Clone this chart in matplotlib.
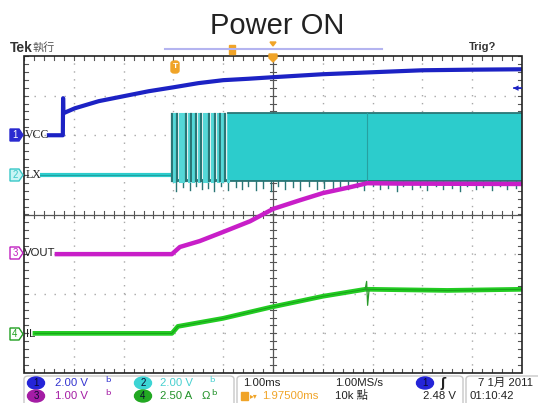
import matplotlib
matplotlib.use('Agg')
import numpy as np
import matplotlib.pyplot as plt
from matplotlib.patches import Polygon, Ellipse, FancyBboxPatch, Rectangle

# ---------------- data (time in ms across the 10-division screen) ----------------
vcc_t = [0.50, 0.78, 0.785, 0.79, 1.02, 1.5, 2.0, 2.5, 3.0, 3.5, 4.0, 4.5, 5.0, 6.0, 7.0, 8.0, 9.0, 10.0]
vcc_v = [0.0, 0.0, 1.87, 1.11, 1.36, 1.72, 1.97, 2.22, 2.42, 2.63, 2.78, 2.85, 2.93, 3.08, 3.18, 3.28, 3.31, 3.33]

lx_flat_t = [0.32, 2.97]
lx_flat_v = [0.0, 0.0]
lx_spike_t = [2.97, 3.02, 3.07, 3.13, 3.19, 3.25, 3.31, 3.35, 3.40, 3.46, 3.52, 3.56,
              3.61, 3.67, 3.71, 3.77, 3.83, 3.89, 3.93, 3.98, 4.04, 4.10]
lx_spike_dark = [1, 0, 1, 0, 0, 1, 0, 1, 0, 1, 0, 1, 0, 0, 1, 0, 1, 0, 1, 0, 1, 0]
lx_band_t = [4.10, 10.0]
lx_band_top = [3.13, 3.13]
lx_band_bot = [-0.25, -0.25]
lx_neg_t = [3.05, 3.20, 3.33, 3.45, 3.58, 3.70, 3.82, 3.95, 4.10, 4.25, 4.38, 4.50, 4.66,
            4.80, 4.95, 5.10, 5.25, 5.40, 5.55, 5.72, 5.88, 6.02, 6.20, 6.35, 6.50, 6.68,
            6.82, 7.00, 7.15, 7.30, 7.48, 7.62, 7.80, 7.95, 8.10, 8.28, 8.42, 8.60, 8.75,
            8.90, 9.08, 9.22, 9.40, 9.55, 9.70, 9.88]
lx_neg_v = [-0.80, -0.60, -0.75, -0.55, -0.70, -0.65, -0.80, -0.55, -0.75, -0.60, -0.70, -0.55,
            -0.75, -0.65, -0.80, -0.55, -0.70, -0.60, -0.75, -0.55, -0.70, -0.65, -0.80, -0.55,
            -0.70, -0.60, -0.75, -0.55, -0.70, -0.65, -0.80, -0.55, -0.70, -0.60, -0.75, -0.55,
            -0.70, -0.65, -0.80, -0.55, -0.70, -0.60, -0.75, -0.55, -0.70, -0.65]

vout_t = [0.66, 2.97, 3.13, 3.53, 4.0, 4.54, 5.0, 5.54, 6.0, 6.55, 6.89, 7.55, 10.0]
vout_v = [0.0, 0.0, 0.18, 0.33, 0.56, 0.83, 1.14, 1.36, 1.54, 1.69, 1.79, 1.78, 1.77]

il_t = [0.22, 2.97, 3.09, 4.0, 4.94, 6.0, 6.85, 6.93, 8.5, 10.0]
il_a = [0.0, 0.0, 0.44, 0.95, 1.64, 2.34, 2.78, 2.78, 2.71, 2.78]
il_spike_t = [6.85, 6.88, 6.90, 6.93]
il_spike_a = [2.78, 3.28, 1.77, 2.78]

# channel settings: (units/div, ground offset in divisions)
ch_scale = {'VCC': 2.0, 'LX': 2.0, 'VOUT': 1.0, 'IL': 2.5}
ch_offset = {'VCC': 2.0, 'LX': 1.0, 'VOUT': -1.0, 'IL': -3.0}

status_row1 = ['2.00 V', '2.00 V', '1.00ms', '1.00MS/s', '7 1月 2011']
status_row2 = ['1.00 V', '2.50 A', '1.97500ms', '10k 點', '2.48 V', '01:10:42']

def div(name, vals):
    return [v / ch_scale[name] + ch_offset[name] for v in vals]

# ---------------- figure ----------------
W, H = 538, 403
fig = plt.figure(figsize=(W / 100, H / 100), dpi=100)
fig.patch.set_facecolor('white')

def fx(x):
    return x / W

def fy(y):
    return 1 - y / H

L, R, T, B = 24, 522, 56, 373
ax = fig.add_axes([fx(L), fy(B), (R - L) / W, (B - T) / H])
ax.set_xlim(0, 10)
ax.set_ylim(-4, 4)
ax.axis('off')

# grid
gcol = '#a8a8a8'
for i in range(1, 10):
    if i == 5:
        continue
    ax.plot([i, i], [-4, 4], color=gcol, lw=1.0, ls=(0, (1, 4.7)), zorder=1)
for j in range(-3, 4):
    if j == 0:
        continue
    ax.plot([0, 10], [j, j], color=gcol, lw=1.0, ls=(0, (1, 6.2)), zorder=1)

ccol = '#555555'
ax.plot([0, 10], [0, 0], color=ccol, lw=0.9, zorder=1)
ax.plot([5, 5], [-4, 4], color=ccol, lw=0.9, zorder=1)
for k in np.arange(0, 10.001, 0.2):
    ax.plot([k, k], [-0.08, 0.08], color=ccol, lw=0.8, zorder=1)
    ax.plot([k, k], [4, 3.9], color=ccol, lw=0.8, zorder=1)
    ax.plot([k, k], [-4, -3.9], color=ccol, lw=0.8, zorder=1)
for k in np.arange(-4, 4.001, 0.2):
    ax.plot([4.94, 5.06], [k, k], color=ccol, lw=0.8, zorder=1)
    ax.plot([0, 0.08], [k, k], color=ccol, lw=0.8, zorder=1)
    ax.plot([10, 9.92], [k, k], color=ccol, lw=0.8, zorder=1)
ax.add_patch(Rectangle((0, -4), 10, 8, fill=False, ec='#222222', lw=1.2, zorder=6, clip_on=False))

# ---------------- traces ----------------
cyan = '#2ccccc'
teal = '#2a7676'
# LX
ax.plot(lx_flat_t, div('LX', lx_flat_v), color=cyan, lw=3.0, zorder=3, solid_capstyle='butt')
ax.plot(lx_flat_t, div('LX', lx_flat_v), color='#1f9a9a', lw=0.6, zorder=3)
ax.plot([2.97, 10.0], div('LX', [-0.25, -0.25]), color=teal, lw=2.0, zorder=3)
for t, v in zip(lx_neg_t, lx_neg_v):
    ax.plot([t, t], div('LX', [-0.25, v]), color=teal, lw=1.0, zorder=3)
for t, d in zip(lx_spike_t, lx_spike_dark):
    ax.plot([t, t], div('LX', [-0.3, 3.05]), color=teal if d else '#55d8d8',
            lw=1.6 if d else 2.2, zorder=3)
ax.fill_between(lx_band_t, div('LX', lx_band_bot), div('LX', lx_band_top),
                color=cyan, lw=0, zorder=3)
ax.plot(lx_band_t, div('LX', lx_band_top), color=teal, lw=1.3, zorder=3)
ax.plot([6.89, 6.89], div('LX', [-0.25, 3.13]), color='#27a0a0', lw=0.8, zorder=3)

# VCC
blue = '#1c22c4'
ax.plot(vcc_t, div('VCC', vcc_v), color=blue, lw=3.0, zorder=4, solid_joinstyle='round')
ax.plot(vcc_t[1:4], div('VCC', vcc_v[1:4]), color=blue, lw=1.0, zorder=4)

# VOUT
mag = '#c81ec8'
ax.plot(vout_t, div('VOUT', vout_v), color=mag, lw=3.2, zorder=5, solid_joinstyle='round')

# IL
green = '#22cc22'
ax.plot(il_t, div('IL', il_a), color=green, lw=3.4, zorder=5, solid_joinstyle='round')
ax.plot(il_t, div('IL', il_a), color='#199a19', lw=0.6, zorder=5)
ax.plot(il_spike_t, div('IL', il_spike_a), color='#2a9a2a', lw=0.9, zorder=5)

# ---------------- channel labels on left ----------------
def marker_box(y, num, fc, ec, tc):
    pts = [(fx(10), fy(y - 6)), (fx(19), fy(y - 6)), (fx(23), fy(y)), (fx(19), fy(y + 6)), (fx(10), fy(y + 6))]
    fig.patches.append(Polygon(pts, closed=True, fc=fc, ec=ec, lw=1.0, transform=fig.transFigure))
    fig.text(fx(15), fy(y), num, color=tc, fontsize=7, ha='center', va='center', family='Liberation Sans')

marker_box(135, '1', '#2a2ad0', '#2a2ad0', 'white')
marker_box(175, '2', '#c8f4f4', '#39c8c8', '#39c8c8')
marker_box(253, '3', 'white', '#c020c0', '#c020c0')
marker_box(334, '4', 'white', '#20a020', '#20a020')
fig.text(fx(25), fy(135), 'VCC', fontsize=8.5, va='center', ha='left', family='Liberation Serif', color='#222222')
fig.text(fx(26), fy(175), 'LX', fontsize=8.5, va='center', ha='left', family='Liberation Serif', color='#222222')
fig.text(fx(24), fy(253), 'VOUT', fontsize=8.2, va='center', ha='left', family='Liberation Sans', color='#222222')
fig.text(fx(26), fy(334), 'IL', fontsize=8.2, va='center', ha='left', family='Liberation Sans', color='#222222')

# ---------------- header ----------------
fig.text(fx(277), fy(26), 'Power ON', fontsize=21, ha='center', va='center', family='Liberation Sans', color='#222222')
fig.text(fx(10), fy(48), 'Tek', fontsize=10, fontweight='bold', ha='left', va='center', family='Liberation Sans', color='#333333')
fig.text(fx(32), fy(48), '執行', fontsize=8, ha='left', va='center', family=['Noto Sans CJK TC', 'DejaVu Sans'], color='#555555')
fig.text(fx(483), fy(47), 'Trig?', fontsize=8, fontweight='bold', ha='center', va='center', family='Liberation Sans', color='#333333')
fig.lines.append(plt.Line2D([fx(165), fx(382)], [fy(49), fy(49)], color='#b4b4f0', lw=1.5, transform=fig.transFigure))

orange = '#f0a428'
fig.patches.append(Rectangle((fx(229), fy(54)), 6 / W, 9 / H, fc=orange, ec=orange, transform=fig.transFigure))
fig.patches.append(Polygon([(fx(270), fy(42)), (fx(276), fy(42)), (fx(273), fy(46))], fc=orange, ec=orange, transform=fig.transFigure))
fig.patches.append(Polygon([(fx(269), fy(54)), (fx(277), fy(54)), (fx(277), fy(58)), (fx(273), fy(62)), (fx(269), fy(58))],
                           fc=orange, ec=orange, transform=fig.transFigure, zorder=10))
fig.patches.append(FancyBboxPatch((fx(171), fy(73)), 8 / W, 12 / H, boxstyle='round,pad=0,rounding_size=0.006',
                                  fc=orange, ec=orange, transform=fig.transFigure))
fig.text(fx(175), fy(67), 'T', fontsize=6, color='white', ha='center', va='center', fontweight='bold', family='Liberation Sans')
fig.text(fx(516), fy(88), '◂', fontsize=8, color=blue, ha='center', va='center', family='DejaVu Sans')
fig.lines.append(plt.Line2D([fx(514), fx(521)], [fy(88), fy(88)], color=blue, lw=1.2, transform=fig.transFigure))

# ---------------- status bar ----------------
bcol = '#c8c8c8'
for x0, x1 in [(24, 234), (237, 463), (466, 545)]:
    fig.patches.append(FancyBboxPatch((fx(x0), fy(410)), (x1 - x0) / W, 34 / H,
                                      boxstyle='round,pad=0,rounding_size=0.008',
                                      fc='white', ec=bcol, lw=1.0, transform=fig.transFigure))

def chan_ellipse(x, y, num, col):
    fig.patches.append(Ellipse((fx(x), fy(y)), 17 / W, 12 / H, fc=col, ec=col, transform=fig.transFigure))
    fig.text(fx(x), fy(y), num, fontsize=7, ha='center', va='center', color='#0a0a30', family='Liberation Sans')

sfont = dict(fontsize=8.2, va='center', family=['Liberation Sans', 'Noto Sans CJK TC'])
bw = dict(fontsize=10, va='center', family='DejaVu Sans')
r1, r2 = 383, 396
chan_ellipse(36, r1, '1', '#2424d8')
chan_ellipse(143, r1, '2', '#3cd4d4')
chan_ellipse(36, r2, '3', '#a41ca4')
chan_ellipse(143, r2, '4', '#22a822')
fig.text(fx(55), fy(r1), status_row1[0], color='#3434d0', **sfont)
fig.text(fx(105), fy(r1), 'ᵇ', color='#3434d0', **bw)
fig.text(fx(160), fy(r1), status_row1[1], color='#48d0d0', **sfont)
fig.text(fx(209), fy(r1), 'ᵇ', color='#48d0d0', **bw)
fig.text(fx(55), fy(r2), status_row2[0], color='#a41ca4', **sfont)
fig.text(fx(105), fy(r2), 'ᵇ', color='#a41ca4', **bw)
fig.text(fx(160), fy(r2), status_row2[1], color='#22922a', **sfont)
fig.text(fx(202), fy(r2), 'Ω', color='#22922a', **sfont)
fig.text(fx(211), fy(r2), 'ᵇ', color='#22922a', **bw)

fig.text(fx(243), fy(r1), status_row1[2], color='#222222', **sfont)
fig.text(fx(335), fy(r1), status_row1[3], color='#222222', **sfont)
chan_ellipse(425, r1, '1', '#2424d8')
fig.text(fx(443), fy(r1), 'ʃ', color='#222222', fontsize=9, va='center', ha='center', family='DejaVu Sans', fontweight='bold')
fig.text(fx(478), fy(r1), status_row1[4], color='#222222', **sfont)

fig.patches.append(Rectangle((fx(241), fy(400)), 7 / W, 8 / H, fc=orange, ec=orange, transform=fig.transFigure))
fig.text(fx(250), fy(r2), '▸▾', color=orange, fontsize=5.5, va='center', family='DejaVu Sans')
fig.text(fx(262), fy(r2), status_row2[2], color=orange, **sfont)
fig.text(fx(335), fy(r2), status_row2[3], color='#222222', **sfont)
fig.text(fx(423), fy(r2), status_row2[4], color='#222222', **sfont)
fig.text(fx(470), fy(r2), status_row2[5], color='#222222', **sfont)

fig.savefig('out.png', dpi=100, facecolor='white')
